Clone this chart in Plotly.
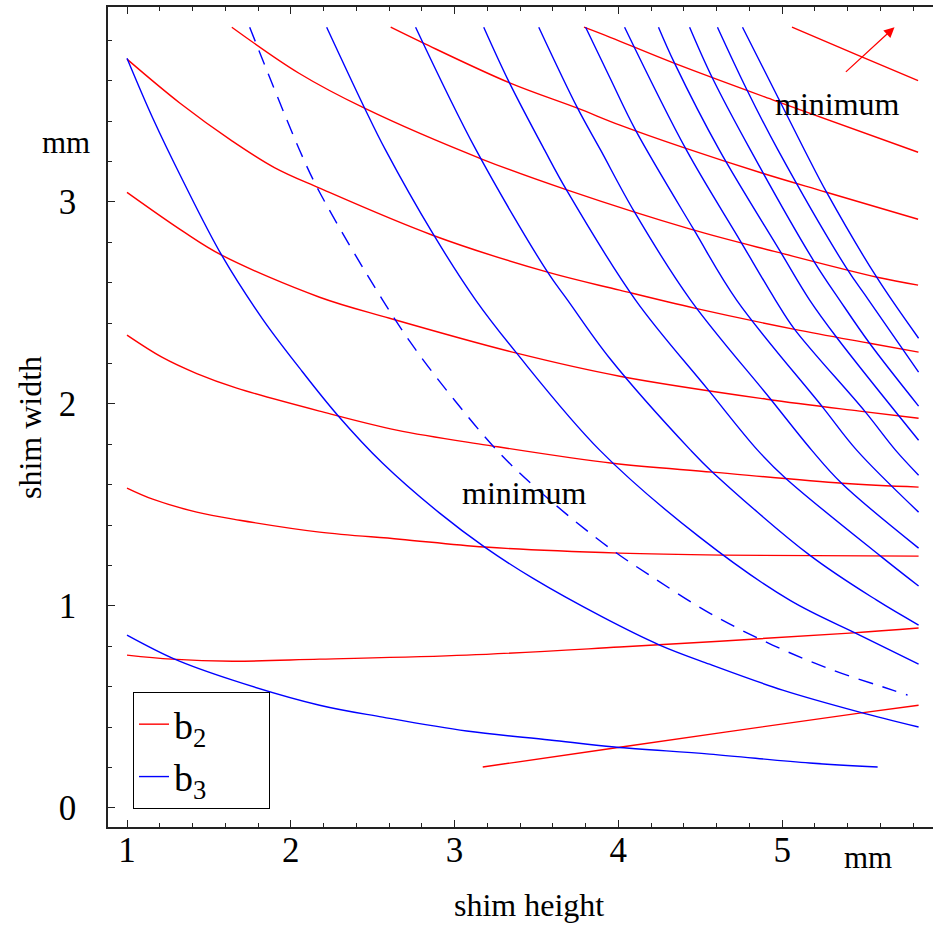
import plotly.graph_objects as go

# ---- b2 contours (red) ----
r1_x = [5.06, 5.45, 5.83]
r1_y = [3.865, 3.73, 3.60]
r2_x = [3.79, 3.95, 4.34, 4.95, 5.83]
r2_y = [3.865, 3.815, 3.687, 3.503, 3.246]
r3_x = [2.61, 2.81, 3.34, 3.75, 4.01, 4.39, 4.88, 5.27, 5.83]
r3_y = [3.865, 3.786, 3.588, 3.464, 3.380, 3.271, 3.142, 3.048, 2.914]
r4_x = [1.64, 2.05, 2.45, 3.17, 3.69, 4.44, 4.97, 5.58, 5.83]
r4_y = [3.865, 3.637, 3.464, 3.211, 3.058, 2.865, 2.751, 2.627, 2.588]
r5_x = [1.0, 1.322, 1.645, 1.9, 2.176, 2.866, 3.568, 4.008, 4.465, 5.076, 5.534, 5.833]
r5_y = [3.707, 3.490, 3.300, 3.170, 3.068, 2.835, 2.652, 2.563, 2.474, 2.369, 2.300, 2.256]
r6_x = [1.0, 1.34, 1.578, 2.176, 2.603, 3.379, 4.008, 4.905, 5.473, 5.833]
r6_y = [3.047, 2.855, 2.736, 2.528, 2.424, 2.251, 2.137, 2.023, 1.964, 1.929]
r7_x = [1.0, 1.213, 1.426, 1.67, 2.176, 2.646, 3.196, 3.965, 4.575, 5.369, 5.833]
r7_y = [2.340, 2.231, 2.150, 2.078, 1.964, 1.870, 1.796, 1.706, 1.662, 1.607, 1.588]
r8_x = [1.0, 1.157, 1.426, 1.688, 2.176, 2.665, 3.184, 4.008, 4.630, 5.833]
r8_y = [1.583, 1.528, 1.464, 1.424, 1.365, 1.330, 1.291, 1.261, 1.251, 1.246]
r9_x = [1.0, 1.273, 1.645, 2.176, 3.074, 4.008, 5.412, 5.833]
r9_y = [0.756, 0.736, 0.726, 0.736, 0.756, 0.796, 0.865, 0.890]
r10_x = [3.172, 4.008, 5.473, 5.833]
r10_y = [0.202, 0.300, 0.469, 0.508]

# ---- b3 contours (blue) ----
b1_x = [1.0, 1.291, 1.645, 2.176, 2.561, 3.074, 3.580, 3.977, 4.557, 5.168, 5.583]
b1_y = [0.855, 0.736, 0.632, 0.508, 0.449, 0.380, 0.336, 0.301, 0.266, 0.222, 0.202]
b2_x = [1.0, 1.157, 1.340, 1.578, 1.828, 2.054, 2.286, 2.561, 2.909, 3.184, 3.477,
        3.905, 4.252, 4.557, 5.003, 5.473, 5.833]
b2_y = [3.711, 3.415, 3.107, 2.736, 2.420, 2.177, 1.944, 1.706, 1.459, 1.291, 1.137,
        0.944, 0.806, 0.711, 0.583, 0.474, 0.400]
l1_x = [2.219, 2.451, 2.579, 2.866, 3.129, 3.379, 3.886, 4.496, 5.046, 5.473, 5.833]
l1_y = [3.865, 3.464, 3.256, 2.845, 2.514, 2.251, 1.771, 1.340, 1.028, 0.855, 0.711]
l2_x = [2.762, 3.132, 3.568, 3.690, 3.947, 4.441, 4.575, 5.168, 5.577, 5.833]
l2_y = [3.865, 3.256, 2.652, 2.514, 2.226, 1.771, 1.662, 1.251, 1.028, 0.905]
l3_x = [3.178, 3.336, 3.550, 3.684, 4.105, 4.545, 4.850, 5.021, 5.601, 5.833]
l3_y = [3.865, 3.588, 3.256, 3.058, 2.514, 2.073, 1.771, 1.632, 1.246, 1.098]
l4_x = [3.514, 3.751, 3.892, 4.099, 4.441, 4.930, 5.180, 5.363, 5.833]
l4_y = [3.865, 3.464, 3.256, 2.949, 2.514, 2.023, 1.771, 1.607, 1.286]
l5_x = [3.800, 3.947, 4.105, 4.459, 4.722, 5.247, 5.455, 5.833]
l5_y = [3.865, 3.617, 3.355, 2.865, 2.514, 1.984, 1.771, 1.464]
l6_x = [4.038, 4.416, 4.746, 4.959, 5.076, 5.504, 5.692, 5.833]
l6_y = [3.865, 3.256, 2.805, 2.514, 2.369, 1.964, 1.771, 1.647]
l7_x = [4.245, 4.343, 4.617, 4.991, 5.168, 5.332, 5.833]
l7_y = [3.865, 3.687, 3.256, 2.751, 2.514, 2.330, 1.820]
l8_x = [4.435, 4.575, 4.807, 5.198, 5.351, 5.534, 5.833]
l8_y = [3.865, 3.612, 3.256, 2.701, 2.514, 2.300, 1.989]
l9_x = [4.605, 4.783, 4.975, 5.393, 5.528, 5.833]
l9_y = [3.865, 3.558, 3.256, 2.672, 2.514, 2.157]
l10_x = [4.758, 5.137, 5.271, 5.577, 5.833]
l10_y = [3.865, 3.256, 3.048, 2.627, 2.325]

# ---- dashed b3 minimum line ----
dash_x = [1.749, 2.054, 2.176, 2.561, 2.756, 3.000, 3.275, 3.568, 3.947, 4.209, 4.557,
          4.941, 5.308, 5.674, 5.766]
dash_y = [3.865, 3.256, 3.048, 2.514, 2.276, 2.018, 1.756, 1.533, 1.286, 1.142, 0.964,
          0.806, 0.682, 0.583, 0.558]

# ---- annotations ----
min_label_mid = (3.428, 1.558)
min_label_top = (5.338, 3.484)
arrow_tail = (5.380, 3.637)
arrow_head = (5.686, 3.865)

x_ticks = [1, 2, 3, 4, 5]
y_ticks = [0, 1, 2, 3]

RED = "#ff0000"
BLUE = "#0000ff"
FONT = "Liberation Serif"

red_curves = [(r1_x, r1_y), (r2_x, r2_y), (r3_x, r3_y), (r4_x, r4_y), (r5_x, r5_y),
              (r6_x, r6_y), (r7_x, r7_y), (r8_x, r8_y), (r9_x, r9_y), (r10_x, r10_y)]
blue_curves = [(b1_x, b1_y), (b2_x, b2_y), (l1_x, l1_y), (l2_x, l2_y), (l3_x, l3_y),
               (l4_x, l4_y), (l5_x, l5_y), (l6_x, l6_y), (l7_x, l7_y), (l8_x, l8_y),
               (l9_x, l9_y), (l10_x, l10_y)]

LEG_PAD = "\u00a0" * 6
SMOOTH = 1.0

fig = go.Figure()
for i, (xs, ys) in enumerate(red_curves):
    fig.add_trace(go.Scatter(x=xs, y=ys, mode="lines", name="b<sub>2</sub>" + LEG_PAD,
                             legendgroup="b2", showlegend=(i == 0),
                             line=dict(color=RED, width=1.4, shape="spline", smoothing=SMOOTH),
                             hoverinfo="skip"))
for i, (xs, ys) in enumerate(blue_curves):
    fig.add_trace(go.Scatter(x=xs, y=ys, mode="lines", name="b<sub>3</sub>" + LEG_PAD,
                             legendgroup="b3", showlegend=(i == 0),
                             line=dict(color=BLUE, width=1.4, shape="spline", smoothing=SMOOTH),
                             hoverinfo="skip"))
fig.add_trace(go.Scatter(x=dash_x, y=dash_y, mode="lines", name="b3 minimum",
                         showlegend=False,
                         line=dict(color=BLUE, width=1.4, dash="15px,10px",
                                   shape="spline", smoothing=SMOOTH),
                         hoverinfo="skip"))

def label(x, y, text, size, ref="paper", angle=0):
    return dict(x=x, y=y, xref=ref if ref == "paper" else "x",
                yref=ref if ref == "paper" else "y", text=text, showarrow=False,
                xanchor="center", yanchor="middle", textangle=angle,
                font=dict(family=FONT, size=size, color="black"))

ann = [
    label(min_label_mid[0], min_label_mid[1], "minimum", 32, ref="data"),
    label(min_label_top[0], min_label_top[1], "minimum", 32, ref="data"),
    dict(x=arrow_head[0], y=arrow_head[1], ax=arrow_tail[0], ay=arrow_tail[1],
         xref="x", yref="y", axref="x", ayref="y", text="", showarrow=True,
         arrowhead=2, arrowsize=1.6, arrowwidth=1.3, arrowcolor=RED),
    label(-0.051, 0.835, "mm", 31),
    label(0.921, -0.037, "mm", 31),
    label(0.510, -0.095, "shim height", 32),
    label(-0.0945, 0.4866, "shim width", 32, angle=-90),
]

axis_common = dict(showgrid=False, zeroline=False, showline=True, linecolor="#222",
                   linewidth=1.5, ticks="inside", ticklen=7, tickwidth=1.2, tickcolor="#222",
                   automargin=False,
                   tickfont=dict(family=FONT, size=35, color="black"))

fig.update_layout(
    width=933, height=926,
    margin=dict(l=108, r=0, t=7, b=99, autoexpand=False),
    paper_bgcolor="white", plot_bgcolor="white",
    xaxis=dict(range=[0.884, 5.921], tickvals=x_ticks, mirror="ticks",
               minor=dict(dtick=0.2, ticks="inside", ticklen=4, tickcolor="#222"),
               ticklabelstandoff=-9, **axis_common),
    yaxis=dict(range=[-0.095, 3.965], tickvals=y_ticks, mirror=False,
               minor=dict(dtick=0.2, ticks="inside", ticklen=4, tickcolor="#222"),
               ticklabelstandoff=23, **axis_common),
    legend=dict(x=0.0303, y=0.022, xanchor="left", yanchor="bottom",
                bgcolor="white", bordercolor="black", borderwidth=1,
                font=dict(family=FONT, size=38, color="black"),
                tracegroupgap=0),
    annotations=ann,
    showlegend=True,
)

fig.write_html("out.html", config={"displayModeBar": False},
               post_script="document.body.style.margin='0';")
